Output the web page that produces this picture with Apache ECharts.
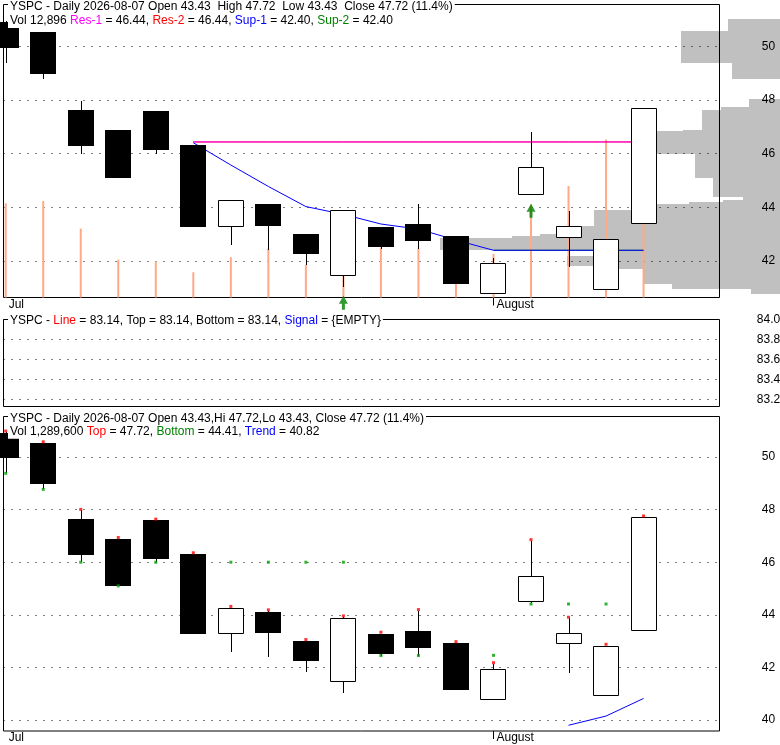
<!DOCTYPE html>
<html><head><meta charset="utf-8">
<script src="https://cdn.jsdelivr.net/npm/echarts@6/dist/echarts.min.js"></script>
<style>html,body{margin:0;padding:0;background:#fff}#c{width:780px;height:745px}</style>
</head><body><div id="c"></div><script>
// ---- data ----
const tickLabels = ['Jul', 'August'];
const tickIndex  = [0, 13];
const opens  = [50.93, 50.55, 47.65, 46.88, 47.61, 46.31, 43.32, 44.12, 43.00, 41.48, 43.26, 43.37, 42.92, 40.80, 44.51, 42.91, 40.94, 43.43];
const closes = [49.95, 48.97, 46.29, 45.10, 46.14, 43.28, 44.26, 43.31, 42.26, 43.89, 42.51, 42.75, 41.15, 41.94, 45.49, 43.32, 42.81, 47.72];
const lows   = [49.40, 48.80, 46.00, 45.10, 46.00, 43.28, 42.59, 42.40, 41.84, 41.02, 42.45, 42.44, 41.15, 40.80, 44.45, 41.77, 40.94, 43.43];
const highs  = [50.95, 50.55, 47.98, 46.90, 47.61, 46.32, 44.27, 44.14, 43.02, 43.90, 43.28, 44.14, 42.94, 42.12, 46.81, 43.86, 42.83, 47.72];
const volumes = [16400, 16800, 12000, 6600, 6300, 4400, 7000, 8500, 5700, 4000, 8700, 8500, 3100, 7600, 16200, 19400, 27500, 12896];
const res1 = [null, null, null, null, null, 46.44, 46.44, 46.44, 46.44, 46.44, 46.44, 46.44, 46.44, 46.44, 46.44, 46.44, 46.44, 46.44];
const res2 = [null, null, null, null, null, 46.44, 46.44, 46.44, 46.44, 46.44, 46.44, 46.44, 46.44, 46.44, 46.44, 46.44, 46.44, 46.44];
const sup1 = [null, null, null, null, null, 46.41, 45.58, 44.78, 44.03, 43.74, 43.38, 43.19, 42.78, 42.40, 42.40, 42.40, 42.40, 42.40];
const sup2 = [null, null, null, null, null, null, null, null, null, null, null, null, null, 42.40, 42.40, 42.40, 42.40, 42.40];
const buySignals = [9, 14];
const topMarks    = [50.95, 50.54, 47.97, 46.90, 47.60, 46.32, 44.28, 44.15, 43.02, 43.92, 43.30, 44.16, 42.94, 42.14, 46.82, 43.87, 42.84, 47.72];
const bottomMarks = [49.38, 48.77, 46.00, 45.10, 46.00, null, 46.00, 46.00, 46.00, 46.00, 42.45, 42.45, null, 42.46, 44.41, 44.41, 44.41, null];
const trend = [null, null, null, null, null, null, null, null, null, null, null, null, null, null, null, 39.80, 40.15, 40.82];
const profileLow  = [50.56, 49.38, 48.80, 47.74, 47.65, 46.87, 46.83, 46.00, 45.10, 44.39, 44.29, 44.19, 44.12, 43.89, 43.30, 43.00, 42.92, 42.84, 42.40, 42.18, 41.81, 41.72, 41.16, 40.94, 40.76];
const profileHigh = [51.01, 50.56, 49.38, 48.03, 47.74, 47.65, 46.87, 46.83, 46.00, 45.10, 44.39, 44.29, 44.19, 44.12, 43.89, 43.30, 43.00, 42.92, 42.84, 42.40, 42.18, 41.81, 41.72, 41.16, 40.94];
const profileVol  = [5200, 9900, 4800, 3100, 5900, 7800, 9700, 12300, 8500, 6700, 3700, 5700, 9100, 12300, 18600, 19800, 24000, 26800, 34000, 16100, 21300, 16100, 13700, 10800, 2900];
const priceTicksTop = [42, 44, 46, 48, 50];
const priceTicksMid = [83.2, 83.4, 83.6, 83.8, 84.0];
const priceTicksBot = [40, 42, 44, 46, 48, 50];

// ---- helpers ----
const FONT = "'Liberation Sans', Arial, sans-serif";
const candleData = opens.map((o, i) => [i, o, closes[i], lows[i], highs[i]]);
const pairs = arr => arr.map((v, i) => v == null ? null : [i, v]).filter(d => d);
const profileData = profileLow.map((lo, i) => [lo, profileHigh[i], profileVol[i]]);

function renderCandle(params, api) {
  const i = api.value(0), o = api.value(1), c = api.value(2), l = api.value(3), h = api.value(4);
  const w = Math.round(api.size([1, 0])[0] * 0.706);
  const pO = api.coord([i, o]), pC = api.coord([i, c]), pL = api.coord([i, l]), pH = api.coord([i, h]);
  const cx = pO[0];
  const x0 = Math.round(cx - w / 2);
  const wx = x0 + Math.floor(w / 2) + 0.5;
  const top = Math.round(Math.min(pO[1], pC[1])), bot = Math.round(Math.max(pO[1], pC[1]));
  const up = c >= o;
  const body = up
    ? {type: 'rect', shape: {x: x0 + 0.5, y: top + 0.5, width: w - 1, height: Math.max(bot - top, 1)}, style: {fill: '#fff', stroke: '#000', lineWidth: 1}}
    : {type: 'rect', shape: {x: x0, y: top, width: w, height: Math.max(bot - top, 1)}, style: {fill: '#000'}};
  return {type: 'group', children: [
    {type: 'line', shape: {x1: wx, y1: Math.round(pH[1]), x2: wx, y2: Math.round(pL[1])}, style: {stroke: '#000', lineWidth: 1}},
    body
  ]};
}
function renderProfile(params, api) {
  const lo = api.value(0), hi = api.value(1), v = api.value(2);
  const a = api.coord([v, hi]), b = api.coord([0, lo]);
  const x = Math.round(Math.min(a[0], b[0])), y = Math.round(a[1]);
  return {type: 'rect', shape: {x: x, y: y, width: Math.round(Math.max(a[0], b[0])) - x, height: Math.round(b[1]) - y}, style: {fill: '#c0c0c0'}};
}

const xRange = {min: -0.0586, max: 19.024};
const dotted = {show: true, lineStyle: {color: '#000', width: 1, type: [1, 7]}};
const priceAxis = (gi, min, max, ticks, fmt) => ({
  type: 'value', gridIndex: gi, position: 'right', min: min, max: max, z: 1,
  axisLine: {show: false}, axisTick: {show: false, customValues: ticks},
  axisLabel: {customValues: ticks, align: 'center', margin: 49, color: '#000', fontSize: 12, fontFamily: FONT, formatter: fmt},
  splitLine: dotted
});
const dateAxis = (gi) => ({
  type: 'value', gridIndex: gi, min: xRange.min, max: xRange.max,
  axisLine: {show: false}, splitLine: {show: false},
  axisTick: {show: true, customValues: [tickIndex[1]], length: 8, lineStyle: {color: '#000'}},
  axisLabel: {customValues: tickIndex, align: 'left', margin: 1, padding: [0, 0, 0, 3], color: '#000', fontSize: 12, fontFamily: FONT,
    formatter: v => tickLabels[tickIndex.indexOf(v)] || ''}
});
const rich = {
  m: {color: '#ff00ff', fontSize: 12, fontFamily: FONT, lineHeight: 14},
  r: {color: '#ff0000', fontSize: 12, fontFamily: FONT, lineHeight: 14},
  b: {color: '#0000ff', fontSize: 12, fontFamily: FONT, lineHeight: 14},
  g: {color: '#008000', fontSize: 12, fontFamily: FONT, lineHeight: 14}
};
const mkTitle = (text, top) => ({
  text: text, left: 8, top: top, padding: [0, 2], backgroundColor: '#fff', z: 10,
  textStyle: {fontSize: 12, fontWeight: 'normal', fontFamily: FONT, color: '#000', lineHeight: 14, rich: rich}
});
const fmt2 = v => v.toFixed(2);
const last = opens.length - 1;

const option = {
  animation: false,
  backgroundColor: '#fff',
  title: [
    mkTitle('YSPC - Daily 2026-08-07 Open ' + fmt2(opens[last]) + '  High ' + fmt2(highs[last]) + '  Low ' + fmt2(lows[last]) + '  Close ' + fmt2(closes[last]) + ' (11.4%)', 0),
    mkTitle('Vol 12,896 {m|Res-1} = 46.44, {r|Res-2} = 46.44, {b|Sup-1} = 42.40, {g|Sup-2} = 42.40', 14),
    mkTitle('YSPC - {r|Line} = 83.14, Top = 83.14, Bottom = 83.14, {b|Signal} = {EMPTY}', 313.5),
    mkTitle('YSPC - Daily 2026-08-07 Open ' + fmt2(opens[last]) + ',Hi ' + fmt2(highs[last]) + ',Lo ' + fmt2(lows[last]) + ', Close ' + fmt2(closes[last]) + ' (11.4%)', 411.3),
    mkTitle('Vol 1,289,600 {r|Top} = 47.72, {g|Bottom} = 44.41, {b|Trend} = 40.82', 424.7)
  ],
  grid: [
    {left: 3.5, top: 4.5, width: 716, height: 293, show: true, borderColor: '#000', borderWidth: 1, z: 1, outerBoundsMode: 'none', containLabel: false},
    {left: 0, top: 4.5, width: 780, height: 293, show: false, outerBoundsMode: 'none', containLabel: false},
    {left: 3.5, top: 319.5, width: 716, height: 87, show: true, borderColor: '#000', borderWidth: 1, z: 1, outerBoundsMode: 'none', containLabel: false},
    {left: 3.5, top: 416.5, width: 716, height: 314.5, show: true, borderColor: '#000', borderWidth: 1, z: 1, outerBoundsMode: 'none', containLabel: false}
  ],
  xAxis: [
    dateAxis(0),
    {type: 'value', gridIndex: 1, inverse: true, min: 0, max: 78000, show: false},
    {type: 'value', gridIndex: 2, min: xRange.min, max: xRange.max, show: false},
    dateAxis(3)
  ],
  yAxis: [
    priceAxis(0, 40.639, 51.566, priceTicksTop, v => String(v)),
    {type: 'value', gridIndex: 0, min: 0, max: 51000, show: false, splitLine: {show: false}},
    {type: 'value', gridIndex: 1, min: 40.639, max: 51.566, show: false, splitLine: {show: false}},
    priceAxis(2, 83.128, 84.0, priceTicksMid, v => v.toFixed(1)),
    priceAxis(3, 39.582, 51.54, priceTicksBot, v => String(v))
  ],
  series: [
    {type: 'custom', xAxisIndex: 1, yAxisIndex: 2, z: 0, silent: true, renderItem: renderProfile, encode: {x: 2, y: [0, 1]}, data: profileData},
    {type: 'bar', xAxisIndex: 0, yAxisIndex: 1, z: 2, silent: true, barWidth: 2, itemStyle: {color: '#ffa987'}, data: volumes.map((v, i) => [i, v])},
    {type: 'line', xAxisIndex: 0, yAxisIndex: 0, z: 3, silent: true, symbol: 'none', lineStyle: {color: '#ff0000', width: 1}, data: pairs(res2)},
    {type: 'line', xAxisIndex: 0, yAxisIndex: 0, z: 3, silent: true, symbol: 'none', lineStyle: {color: '#008000', width: 1}, data: pairs(sup2)},
    {type: 'line', xAxisIndex: 0, yAxisIndex: 0, z: 3, silent: true, symbol: 'none', lineStyle: {color: '#ff00ff', width: 1}, data: pairs(res1)},
    {type: 'line', xAxisIndex: 0, yAxisIndex: 0, z: 3, silent: true, symbol: 'none', lineStyle: {color: '#0000ff', width: 1}, data: pairs(sup1)},
    {type: 'custom', xAxisIndex: 0, yAxisIndex: 0, z: 4, silent: true, renderItem: renderCandle, encode: {x: 0, y: [1, 2, 3, 4]}, data: candleData},
    {type: 'scatter', xAxisIndex: 0, yAxisIndex: 0, z: 5, silent: true, clip: false,
      symbol: 'path://M4.5,0 L9,8 L6,8 L6,14 L3,14 L3,8 L0,8 Z', symbolSize: [9, 14], symbolOffset: [0, 15.5],
      itemStyle: {color: '#008000'}, data: buySignals.map(i => [i, lows[i]])},
    {type: 'custom', xAxisIndex: 3, yAxisIndex: 4, z: 4, silent: true, renderItem: renderCandle, encode: {x: 0, y: [1, 2, 3, 4]}, data: candleData},
    {type: 'line', xAxisIndex: 3, yAxisIndex: 4, z: 3, silent: true, symbol: 'none', lineStyle: {color: '#0000ff', width: 1}, data: pairs(trend)},
    {type: 'scatter', xAxisIndex: 3, yAxisIndex: 4, z: 5, silent: true, clip: false, symbol: 'rect', symbolSize: 3, symbolOffset: [0, -1],
      itemStyle: {color: '#ff0000'}, data: pairs(topMarks)},
    {type: 'scatter', xAxisIndex: 3, yAxisIndex: 4, z: 5, silent: true, clip: false, symbol: 'rect', symbolSize: 3,
      itemStyle: {color: '#00a000'}, data: pairs(bottomMarks)}
  ]
};
echarts.init(document.getElementById('c'), null, {renderer: 'canvas'}).setOption(option);
</script></body></html>
